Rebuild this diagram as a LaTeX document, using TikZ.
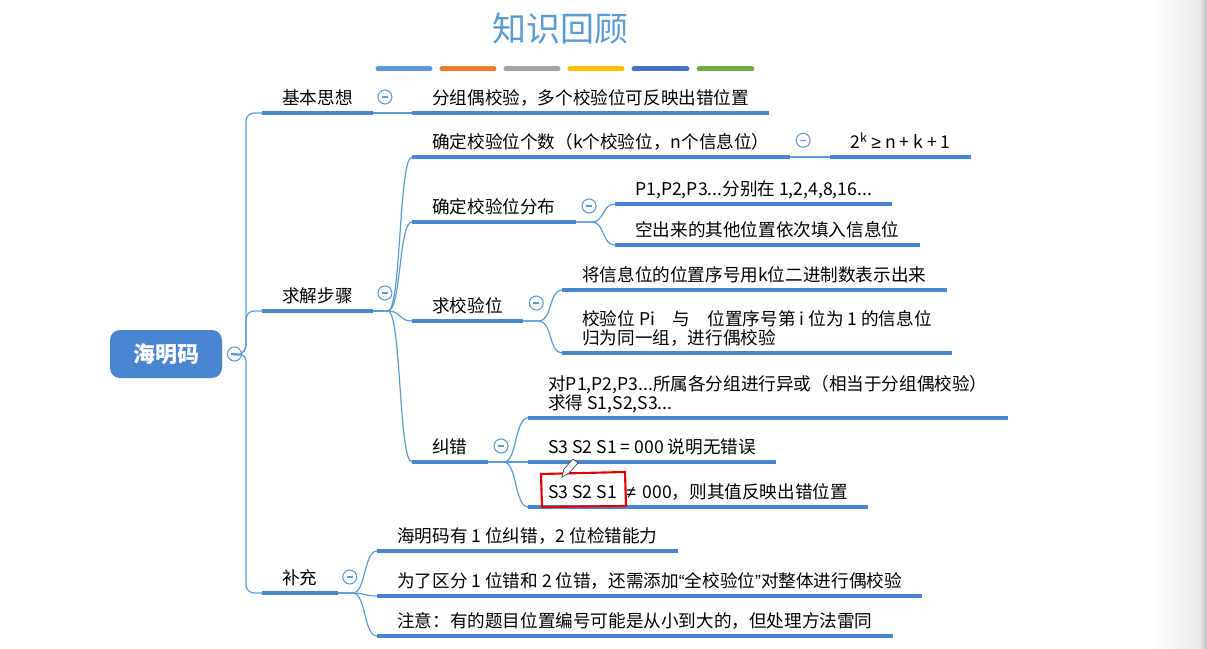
\documentclass[tikz,border=0pt]{standalone}
\usepackage{fontspec}
\newfontfamily\cjk{Noto Sans CJK SC}
\newfontfamily\symf{Liberation Sans}
\usetikzlibrary{positioning}
\definecolor{mapblue}{RGB}{74,134,208}
\definecolor{linkblue}{RGB}{91,155,213}
\definecolor{barorange}{RGB}{237,125,49}
\definecolor{bargray}{RGB}{165,165,165}
\definecolor{baryellow}{RGB}{255,192,0}
\definecolor{bardblue}{RGB}{68,114,196}
\definecolor{bargreen}{RGB}{112,173,71}
\tikzset{
  topic/.style = {anchor=south west, inner xsep=15pt, inner ysep=6.5pt,
                  text depth=0pt, align=left,
                  font=\cjk\fontsize{13.2}{14.3}\selectfont},
  uline/.style = {draw=mapblue, line width=3pt},
  link/.style  = {draw=linkblue, line width=0.9pt},
  fan/.style   = {out=0, in=180, distance=10pt},
  fold/.style  = {circle, draw=linkblue, fill=white, line width=0.8pt,
                  minimum size=10.5pt, inner sep=0pt,
                  path picture={\draw[linkblue, line width=0.8pt]
                    ([xshift=-2.4pt]path picture bounding box.center) --
                    ([xshift=2.4pt]path picture bounding box.center);}},
  root/.style  = {fill=mapblue, rounded corners=7.5pt, minimum width=84pt,
                  minimum height=36pt, text=white,
                  font=\cjk\bfseries\fontsize{16.5}{18}\selectfont}
}

\begin{document}
\begin{tikzpicture}[x=0.75pt, y=-0.75pt]
	\useasboundingbox (0,0) rectangle (1207,649);

	% page shadow on the right
	\shade[left color=white, right color=black!8] (1150,0) rectangle (1199,649);
	\shade[left color=black!8, right color=black!25] (1199,0) rectangle (1207,649);

	% Title
	\node[font=\cjk\fontsize{25.5}{30}\selectfont, text=linkblue] (title) at (560,29) {知识回顾};
	\draw[linkblue, line width=3.75pt, line cap=round]   (378,69) -- (430,69);
	\draw[barorange, line width=3.75pt, line cap=round]  (442,69) -- (494,69);
	\draw[bargray, line width=3.75pt, line cap=round]    (506,69) -- (558,69);
	\draw[baryellow, line width=3.75pt, line cap=round]  (570,69) -- (622,69);
	\draw[bardblue, line width=3.75pt, line cap=round]   (634,69) -- (687,69);
	\draw[bargreen, line width=3.75pt, line cap=round]   (699,69) -- (752,69);

	% Root
	\node[root] (hm) at (166,354) {海明码};
	\node[fold, right=3.5pt of hm] (f-hm) {};
	\coordinate (trunk) at (246,353);

	% Level 1
	\node[topic] (jb) at (262,113) {基本思想};
	\node[topic] (qj) at (262,311) {求解步骤};
	\node[topic] (bc) at (262,593) {补充};

	% Level 2
	\node[topic] (jb1) at (412,113) {分组偶校验，多个校验位可反映出错位置};
	\node[topic] (q1) at (412,157) {确定校验位个数（k个校验位，n个信息位）};
	\node[topic] (q2) at (412,222) {确定校验位分布};
	\node[topic] (q3) at (412,321) {求校验位};
	\node[topic] (q4) at (412,462) {纠错};
	\node[topic] (b1) at (377,551) {海明码有 1 位纠错，2 位检错能力};
	\node[topic] (b2) at (377,596) {为了区分 1 位错和 2 位错，还需添加{\symf “}全校验位{\symf ”}对整体进行偶校验};
	\node[topic] (b3) at (377,636) {注意：有的题目位置编号可能是从小到大的，但处理方法雷同};

	% Level 3
	\node[topic] (q11) at (830,157) {2\textsuperscript{k}\ {\symf ≥}\ n + k + 1};
	\node[topic] (q21) at (615,204) {P1,P2,P3...分别在 1,2,4,8,16...};
	\node[topic] (q22) at (615,245) {空出来的其他位置依次填入信息位};
	\node[topic] (q31) at (562,290) {将信息位的位置序号用k位二进制数表示出来};
	\node[topic] (q32) at (562,353) {校验位 Pi\quad 与\quad 位置序号第 i 位为 1 的信息位\\归为同一组，进行偶校验};
	\node[topic] (q41) at (528,418) {对P1,P2,P3...所属各分组进行异或（相当于分组偶校验）\\求得 S1,S2,S3...};
	\node[topic] (q42) at (528,462) {S3 S2 S1 = 000 说明无错误};
	\node[topic] (q43) at (528,507) {S3 S2 S1\hspace{7pt}{\symf ≠}\hspace{5pt}000，则其值反映出错位置};

	% Underlines
	\foreach \n in {jb,qj,bc,jb1,q1,q2,q3,q4,b1,b2,b3,q11,q21,q22,q31,q32,q41,q42,q43}
		\draw[uline] (\n.south west) -- (\n.south east);

	% Fold marks
	\node[fold] (f-jb) at ([xshift=9pt,yshift=12pt]jb.south east) {};
	\node[fold] (f-qj) at ([xshift=9pt,yshift=13.5pt]qj.south east) {};
	\node[fold] (f-bc) at ([xshift=9pt,yshift=12pt]bc.south east) {};
	\node[fold] (f-q1) at ([xshift=10pt,yshift=12.5pt]q1.south east) {};
	\node[fold] (f-q2) at ([xshift=10pt,yshift=12pt]q2.south east) {};
	\node[fold] (f-q3) at ([xshift=10pt,yshift=13.5pt]q3.south east) {};
	\node[fold] (f-q4) at ([xshift=10pt,yshift=12pt]q4.south east) {};

	% Trunk
	\draw[link, rounded corners=6pt] (f-hm.east) -- (trunk) |- (jb.south west);
	\draw[link, rounded corners=6pt] (f-hm.east) -- (trunk) |- (qj.south west);
	\draw[link, rounded corners=6pt] (f-hm.east) -- (trunk) |- (bc.south west);

	% Branches
	\draw[link] (jb.south east) -- (jb1.south west);
	\draw[link] (q1.south east) -- (q11.south west);
	\foreach \c in {q1,q2,q3,q4}
		\draw[link] (qj.south east) -- ++(15,0) to[fan] (\c.south west);
	\foreach \c in {q21,q22}
		\draw[link] (q2.south east) -- ++(16,0) to[fan] (\c.south west);
	\foreach \c in {q31,q32}
		\draw[link] (q3.south east) -- ++(16,0) to[fan] (\c.south west);
	\foreach \c in {q41,q42,q43}
		\draw[link] (q4.south east) -- ++(16,0) to[fan] (\c.south west);
	\foreach \c in {b1,b2,b3}
		\draw[link] (bc.south east) -- ++(15,0) to[fan] (\c.south west);

	% red mark and pen cursor
	\draw[red!90!black, line width=1.6pt] (541,474) -- (625,472) -- (626,506) -- (542,507) -- cycle;
	\draw[black!75, fill=white, line width=0.5pt] (562,477) -- (564,469) -- (573,459) -- (578,463) -- (569,473) -- cycle;

\end{tikzpicture}
\end{document}
